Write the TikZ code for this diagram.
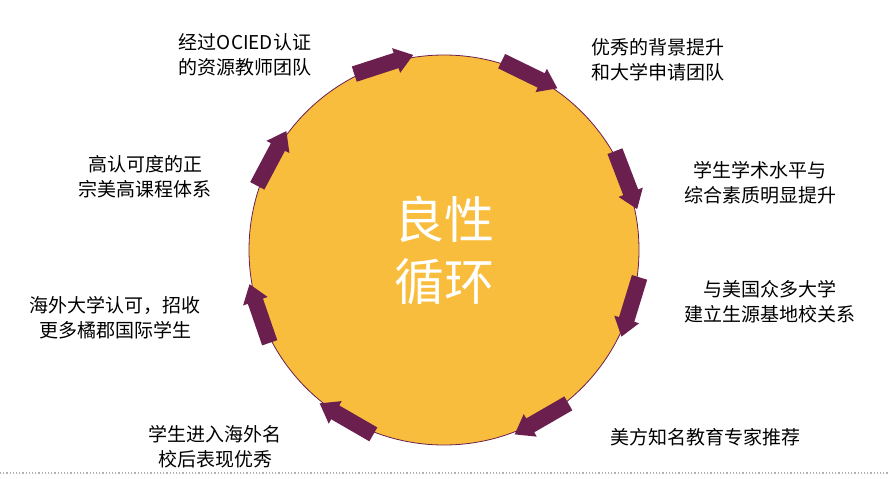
\documentclass[tikz,border=0pt]{standalone}
\usepackage{fontspec}
\setmainfont{Noto Sans CJK SC}
\usetikzlibrary{calc}
\definecolor{gold}{HTML}{F9BD3D}
\definecolor{plum}{HTML}{6A1F4E}
\tikzset{
  arrfill/.style={fill=plum, draw=none},
  lab/.style={align=center, font=\fontsize{19}{25}\selectfont, text=black}
}
\begin{document}
\begin{tikzpicture}[x=1pt,y=-1pt]
\useasboundingbox (0,0) rectangle (889,479);
\draw[gray!60, dotted, line width=1.2pt] (0,473) -- (889,473);
\node[circle, fill=gold, draw=plum, line width=0.8pt, minimum size=390pt] (c) at (444,250) {};
\node[align=center, text=white, font=\fontsize{50}{62}\selectfont] (t) at (444,250) {良性\\循环};
\foreach \a/\n in {108/a1,64/a2,21/a3,-17/a4,-60/a5,-120/a6,-161/a7,152/a8}{
  \coordinate (\n) at ($(444,250)+(\a:195pt)$);
  \fill[arrfill, shift={(\n)}, rotate=\a-90]
    (-31pt,-8pt) -- (13pt,-8pt) -- (13pt,-13pt) -- (31pt,0pt) -- (13pt,13pt) -- (13pt,8pt) -- (-31pt,8pt) -- cycle;
}
\node[lab] (l1) at (245,55) {经过OCIED认证\\的资源教师团队};
\node[lab] (l2) at (658,60) {优秀的背景提升\\和大学申请团队};
\node[lab] (l3) at (760,183) {学生学术水平与\\综合素质明显提升};
\node[lab] (l4) at (770,302) {与美国众多大学\\建立生源基地校关系};
\node[lab] (l5) at (705,437) {美方知名教育专家推荐};
\node[lab] (l6) at (215,447) {学生进入海外名\\校后表现优秀};
\node[lab] (l7) at (115,318) {海外大学认可，招收\\更多橘郡国际学生};
\node[lab] (l8) at (145,177) {高认可度的正\\宗美高课程体系};
\end{tikzpicture}
\end{document}
